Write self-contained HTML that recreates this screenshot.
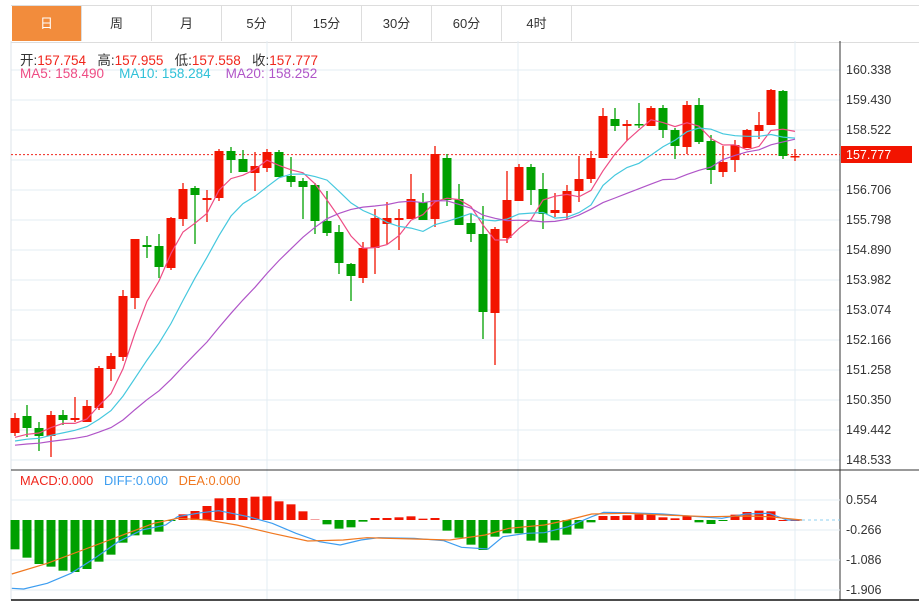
<!DOCTYPE html>
<html><head><meta charset="utf-8"><style>
body{margin:0;background:#fff;font-family:"Liberation Sans","Noto Sans CJK SC",sans-serif;}
#w{position:relative;width:919px;height:606px;overflow:hidden;}
.tab{position:absolute;top:6px;height:35px;width:70px;line-height:35px;text-align:center;font-size:13px;color:#333;border-right:1px solid #ddd;box-sizing:border-box;}
</style></head><body><div id="w">
<div style="position:absolute;left:11px;top:5px;width:908px;height:36px;border-top:1px solid #ddd;border-bottom:1px solid #ddd;"></div>
<div class="tab" style="left:12px;background:#f28c3c;color:#fff;">日</div>
<div class="tab" style="left:82px">周</div><div class="tab" style="left:152px">月</div>
<div class="tab" style="left:222px">5分</div><div class="tab" style="left:292px">15分</div>
<div class="tab" style="left:362px">30分</div><div class="tab" style="left:432px">60分</div>
<div class="tab" style="left:502px">4时</div>
<svg id="s" width="919" height="606" style="position:absolute;left:0;top:0"></svg>
<div style="position:absolute;left:20px;top:49px;font-size:13.5px;color:#333;white-space:nowrap">开:<span style="color:#f0261c">157.754</span>&nbsp;&nbsp; 高:<span style="color:#f0261c">157.955</span>&nbsp;&nbsp; 低:<span style="color:#f0261c">157.558</span>&nbsp;&nbsp; 收:<span style="color:#f0261c">157.777</span></div>
<div style="position:absolute;left:20px;top:66px;font-size:13.5px;white-space:nowrap"><span style="color:#ee4c84">MA5: 158.490</span>&nbsp;&nbsp;&nbsp; <span style="color:#2fc1d8">MA10: 158.284</span>&nbsp;&nbsp;&nbsp; <span style="color:#b055c8">MA20: 158.252</span></div>
<div style="position:absolute;left:20px;top:473px;font-size:12.8px;white-space:nowrap"><span style="color:#f0261c">MACD:0.000</span>&nbsp;&nbsp; <span style="color:#3d9df0">DIFF:0.000</span>&nbsp;&nbsp; <span style="color:#f07820">DEA:0.000</span></div>
</div>
<script>
var s=document.getElementById('s'),h='';
function L(x1,y1,x2,y2,c,w,d){h+='<line x1="'+x1+'" y1="'+y1+'" x2="'+x2+'" y2="'+y2+'" stroke="'+c+'" stroke-width="'+(w||1)+'"'+(d?' stroke-dasharray="'+d+'"':'')+'/>';}
function T(x,y,t,c,extra){h+='<text x="'+x+'" y="'+y+'" font-size="12.5" fill="'+(c||'#333')+'" '+(extra||'')+'>'+t+'</text>';}
var ticks=['160.338','159.430','158.522','157.614','156.706','155.798','154.890','153.982','153.074','152.166','151.258','150.350','149.442','148.533'];
for(var i=0;i<14;i++){var y=70+i*30;L(11,y,840,y,'#e3ecf3');if(ticks[i]!='157.614')T(846,y+4,ticks[i]);}
[267,518,795].forEach(function(x){L(x,41,x,600,'#e3ecf3');});
L(11,41,11,600,'#dde3ea');L(840,41,840,600,'#333');L(11,470,919,470,'#333');L(11,600,919,600,'#111',1.5);
[[500,'0.554'],[530,'-0.266'],[560,'-1.086'],[590,'-1.906']].forEach(function(a){L(11,a[0],840,a[0],'#e3ecf3');T(846,a[0]+4,a[1]);});
var C=[['r',418,433,413,436],['g',416,428,405,437],['g',428,436,422,451],['r',415,436,411,457],['g',415,420,410,425],['r',418,420,397,422],['r',406,422,400,422],['r',368,408,366,410],['r',356,369,353,381],['r',296,357,290,361],['r',239,298,239,309],['g',245,247,236,258],['g',246,267,234,278],['r',218,268,217,270],['r',189,219,183,226],['g',188,195,186,244],['r',198,200,190,222],['r',151,198,149,201],['g',151,160,147,173],['g',159,172,150,172],['r',166,173,152,191],['r',152,168,149,172],['g',152,177,150,177],['g',176,182,157,187],['g',181,187,178,219],['g',185,221,183,234],['g',221,233,191,236],['g',232,263,225,274],['g',264,276,263,301],['r',248,278,242,283],['r',218,248,209,274],['r',218,224,202,244],['r',218,220,209,250],['r',199,219,174,219],['g',202,220,193,220],['r',154,219,146,227],['g',158,200,154,206],['g',199,225,184,225],['g',223,234,213,242],['g',234,312,206,339],['r',229,313,227,365],['r',200,238,171,243],['r',167,201,164,201],['g',167,190,164,205],['g',189,214,173,229],['r',210,213,193,217],['r',191,213,185,219],['r',179,191,156,202],['r',158,179,151,183],['r',116,158,108,158],['g',119,126,108,131],['r',124,126,120,141],['g',124,125,103,128],['r',108,126,106,126],['g',108,130,105,138],['g',130,146,128,159],['r',105,147,101,154],['g',105,142,98,144],['g',141,170,135,184],['r',162,172,146,177],['r',145,160,140,172],['r',130,148,129,148],['r',125,131,112,139],['r',90,125,89,125],['g',91,156,90,159],['r',156,157,149,161]];
L(11,154.6,840,154.6,'#f0261c',1,'2,2');
var closes=[];
C.forEach(function(c,i){var x=15+12*i,col=c[0]=='r'?'#f21400':'#00a000';L(x,c[3],x,c[4],col,1.3);var bh=Math.max(c[2]-c[1],1.5);h+='<rect x="'+(x-4.5)+'" y="'+c[1]+'" width="9" height="'+bh+'" fill="'+col+'"/>';closes.push(c[0]=='r'?c[1]:c[2]);});
var pre=[];for(var k=0;k<19;k++)pre.push(452-k*0.6);
var all=pre.concat(closes);
function ma(n,col){var p=[];for(var i=0;i<closes.length;i++){var j=i+19,sm=0;for(var k=0;k<n;k++)sm+=all[j-k];p.push((15+12*i)+','+(sm/n).toFixed(1));}h+='<polyline points="'+p.join(' ')+'" fill="none" stroke="'+col+'" stroke-width="1.2"/>';}
ma(5,'#ee4c84');ma(10,'#45c8de');ma(20,'#b055c8');
h+='<rect x="841" y="146" width="71" height="17" fill="#f21400"/>';T(846,159,'157.777','#fff');
var B=[238,263,282,290,302,306,297,275,254,218,196,194,185,152,133,123,108,85,84,84,80,79,94,103,124,147,163,176,172,155,144,144,142,139,146,144,182,203,224,240,200,190,190,212,218,211,194,176,157,138,138,136,133,134,142,145,137,157,162,152,134,126,122,124,150,150];
B.forEach(function(z,i){var y=z/3+470,x=15+12*i,col=y>520?'#00a000':'#f21400';if(i==25)col='#f4a0a0';var t=Math.min(y,520),hh=Math.max(Math.abs(y-520),1);h+='<rect x="'+(x-4.5)+'" y="'+t+'" width="9" height="'+hh+'" fill="'+col+'"/>';});
function zl(pts,col){h+='<polyline points="'+pts.map(function(p){return (p[0]/1.69).toFixed(1)+','+(p[1]/3+470).toFixed(1);}).join(' ')+'" fill="none" stroke="'+col+'" stroke-width="1.2"/>';}
zl([[20,355],[40,357],[80,340],[120,310],[160,265],[200,215],[240,180],[280,165],[300,140],[340,128],[370,122],[420,140],[460,160],[500,190],[540,215],[575,225],[610,210],[640,203],[700,205],[750,212],[780,232],[825,237],[850,200],[890,190],[920,188],[960,170],[1000,140],[1020,127],[1060,128],[1120,132],[1180,140],[1220,145],[1260,132],[1300,130],[1330,150],[1355,150]],'#3d9df0');
zl([[20,312],[80,280],[140,240],[200,200],[260,160],[300,145],[350,150],[400,165],[460,190],[520,213],[580,210],[620,203],[700,207],[760,210],[820,195],[860,175],[920,165],[960,150],[1000,132],[1060,130],[1120,135],[1200,140],[1260,138],[1300,140],[1355,150]],'#f07820');
L(802,520,840,520,'#8fd0f0',1,'3,3');
s.innerHTML=h;
</script></body></html>
